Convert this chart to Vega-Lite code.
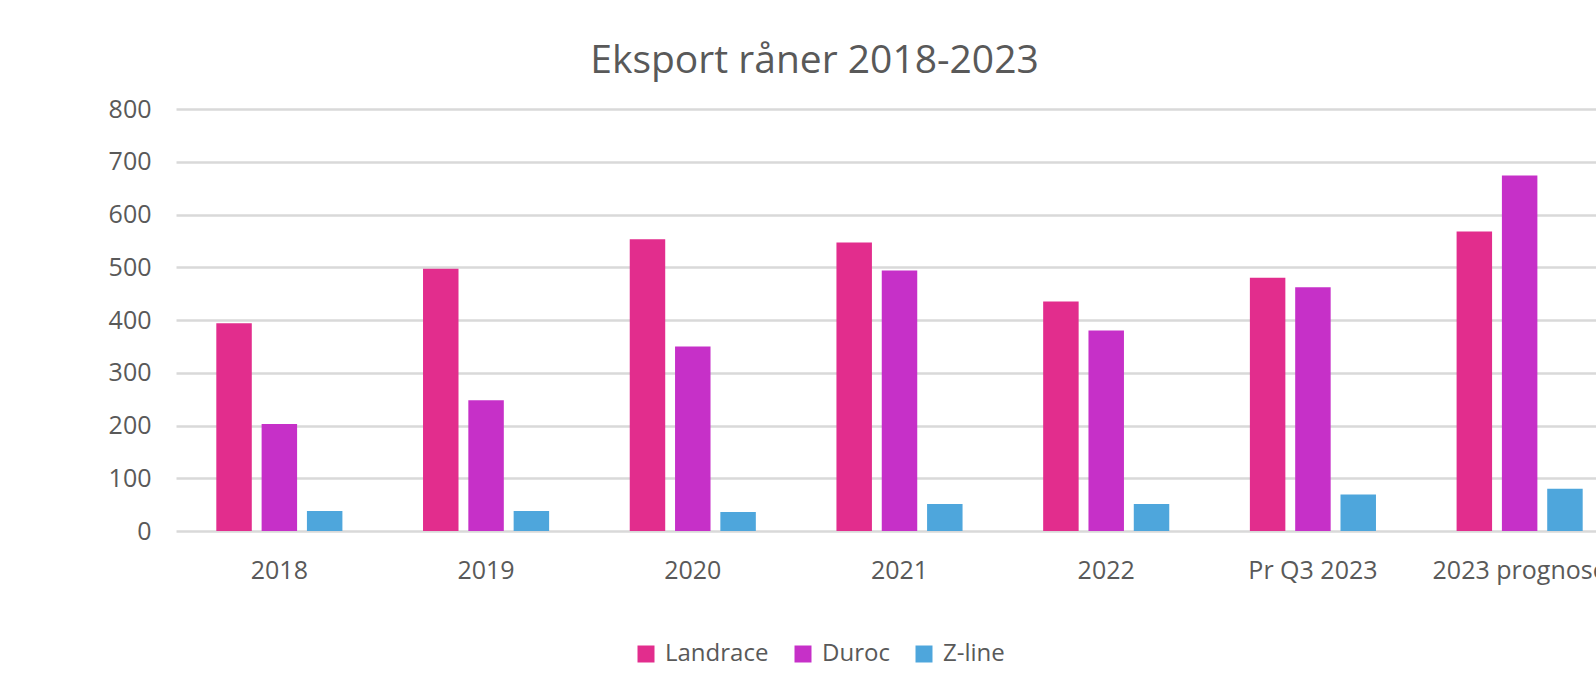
{
  "$schema": "https://vega.github.io/schema/vega-lite/v6.json",
  "autosize": {"type": "none"},
  "padding": {"left": 176, "top": 109, "right": 0, "bottom": 162},
  "width": 1447,
  "height": 422,
  "background": "white",
  "title": {
    "text": "Eksport råner 2018-2023",
    "font": "Open Sans",
    "fontSize": 39,
    "fontWeight": "normal",
    "color": "#595959",
    "anchor": "middle",
    "frame": "group",
    "baseline": "alphabetic",
    "offset": 32,
    "dx": -85,
    "dy": 47
  },
  "data": {
    "values": [
      {"kategori": "2018", "rase": "Landrace", "antall": 394},
      {"kategori": "2018", "rase": "Duroc", "antall": 203},
      {"kategori": "2018", "rase": "Z-line", "antall": 38},
      {"kategori": "2019", "rase": "Landrace", "antall": 497},
      {"kategori": "2019", "rase": "Duroc", "antall": 248},
      {"kategori": "2019", "rase": "Z-line", "antall": 38},
      {"kategori": "2020", "rase": "Landrace", "antall": 553},
      {"kategori": "2020", "rase": "Duroc", "antall": 350},
      {"kategori": "2020", "rase": "Z-line", "antall": 36},
      {"kategori": "2021", "rase": "Landrace", "antall": 547},
      {"kategori": "2021", "rase": "Duroc", "antall": 494},
      {"kategori": "2021", "rase": "Z-line", "antall": 51},
      {"kategori": "2022", "rase": "Landrace", "antall": 435},
      {"kategori": "2022", "rase": "Duroc", "antall": 380},
      {"kategori": "2022", "rase": "Z-line", "antall": 51},
      {"kategori": "Pr Q3 2023", "rase": "Landrace", "antall": 480},
      {"kategori": "Pr Q3 2023", "rase": "Duroc", "antall": 462},
      {"kategori": "Pr Q3 2023", "rase": "Z-line", "antall": 69},
      {"kategori": "2023 prognose", "rase": "Landrace", "antall": 568},
      {"kategori": "2023 prognose", "rase": "Duroc", "antall": 674},
      {"kategori": "2023 prognose", "rase": "Z-line", "antall": 80}
    ]
  },
  "mark": {"type": "bar"},
  "encoding": {
    "x": {
      "field": "kategori",
      "type": "nominal",
      "sort": null,
      "title": null,
      "scale": {"paddingInner": 0.39, "paddingOuter": 0.195},
      "axis": {
        "labelAngle": 0,
        "ticks": false,
        "domain": false,
        "grid": false,
        "labelFont": "Open Sans",
        "labelFontSize": 25,
        "labelColor": "#595959",
        "labelBaseline": "alphabetic",
        "labelPadding": 47
      }
    },
    "xOffset": {
      "field": "rase",
      "type": "nominal",
      "sort": ["Landrace", "Duroc", "Z-line"],
      "scale": {"paddingInner": 0.217, "paddingOuter": 0}
    },
    "y": {
      "field": "antall",
      "type": "quantitative",
      "title": null,
      "scale": {"domain": [0, 800], "nice": false},
      "axis": {
        "values": [0, 100, 200, 300, 400, 500, 600, 700, 800],
        "ticks": false,
        "domain": false,
        "grid": true,
        "gridColor": "#d9d9d9",
        "gridWidth": 2.5,
        "labelFont": "Open Sans",
        "labelFontSize": 25,
        "labelColor": "#595959",
        "labelPadding": 25
      }
    },
    "color": {
      "field": "rase",
      "type": "nominal",
      "sort": ["Landrace", "Duroc", "Z-line"],
      "scale": {"domain": ["Landrace", "Duroc", "Z-line"], "range": ["#E22D8D", "#C630C8", "#4EA6DC"]},
      "legend": {
        "title": null,
        "orient": "none",
        "direction": "horizontal",
        "legendX": 458,
        "legendY": 533,
        "symbolType": "square",
        "symbolSize": 289,
        "symbolStrokeWidth": 0,
        "symbolOpacity": 1,
        "labelFont": "Open Sans",
        "labelFontSize": 24,
        "labelColor": "#595959",
        "labelOffset": 7,
        "columnPadding": 22
      }
    }
  },
  "config": {
    "view": {"stroke": null}
  }
}
